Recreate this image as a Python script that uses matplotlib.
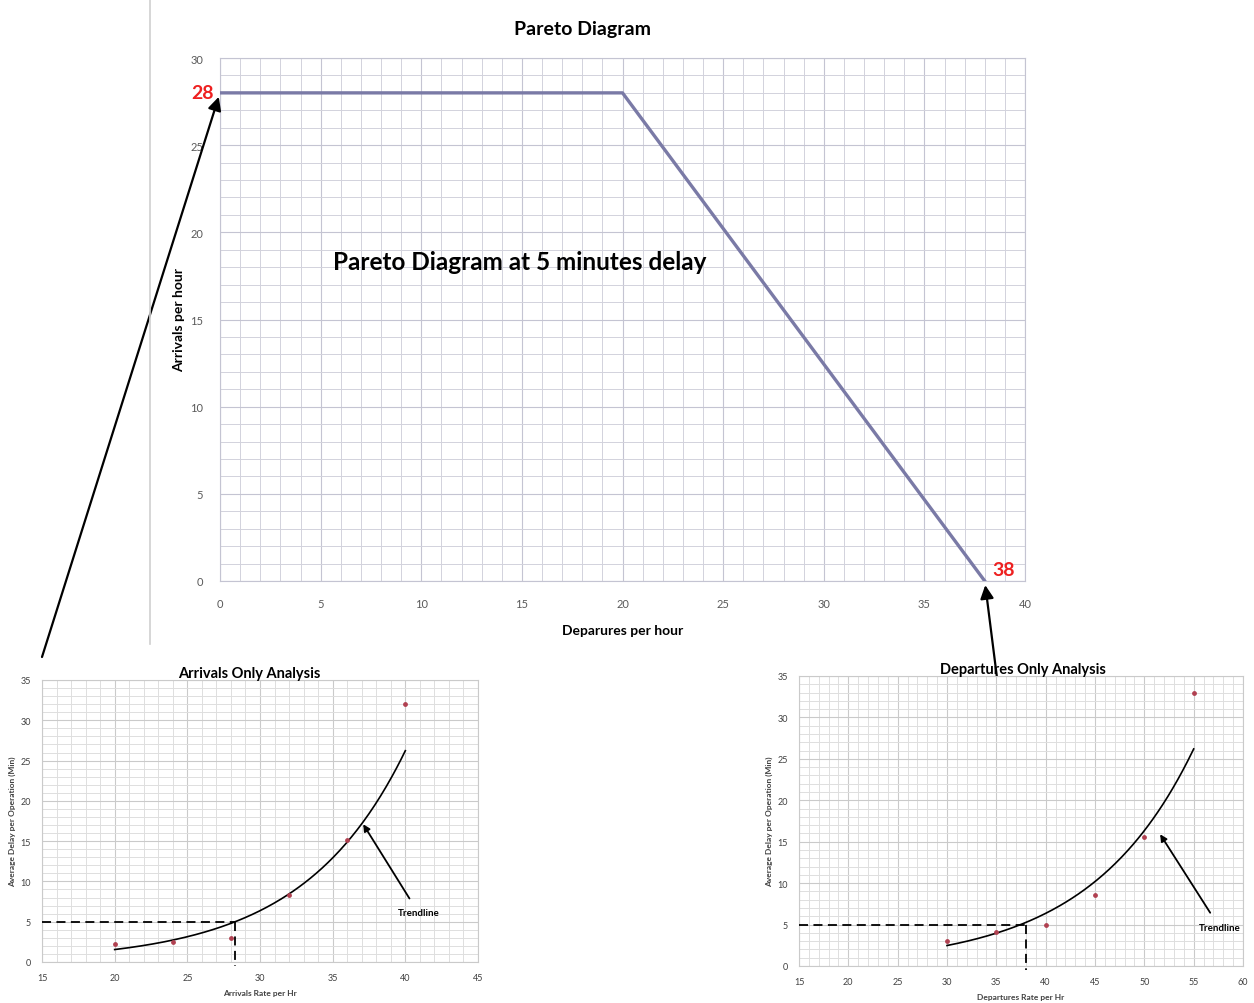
import numpy as np
import matplotlib
matplotlib.use("Agg")
import matplotlib.pyplot as plt
from matplotlib.ticker import MultipleLocator
from matplotlib.lines import Line2D

plt.rcParams['font.family'] = ['Lato', 'DejaVu Sans']

# pareto diagram (departures, arrivals per hour)
pareto_dep = [0, 20, 38]
pareto_arr = [28, 28, 0]

# arrivals only analysis
arr_rate = [20, 24, 28, 32, 36, 40]
arr_delay = [2.2, 2.5, 3.0, 8.3, 15.2, 32.0]
arr_cap = 28.3  # arrivals at 5 min delay

# departures only analysis
dep_rate = [30, 35, 40, 45, 50, 55]
dep_delay = [3.0, 4.1, 5.0, 8.6, 15.6, 32.9]
dep_cap = 38.0

delay_target = 5

W, H = 1254, 1004
fig = plt.figure(figsize=(W / 100, H / 100), dpi=100)


def px_axes(l, b, r, t):
    return fig.add_axes([l / W, 1 - b / H, (r - l) / W, (b - t) / H])


def grid_style(ax, grid_col, minor_col):
    ax.xaxis.set_minor_locator(MultipleLocator(1))
    ax.yaxis.set_minor_locator(MultipleLocator(1))
    ax.grid(True, which='major', color=grid_col, lw=0.8)
    ax.grid(True, which='minor', color=minor_col, lw=0.7)
    ax.set_axisbelow(True)
    ax.tick_params(which='both', length=0)
    for s in ax.spines.values():
        s.set_color(grid_col)
        s.set_linewidth(0.8)


# ---- main pareto chart ----
ax = px_axes(220, 582, 1025, 59)
grid_style(ax, '#c4c4d2', '#d2d2dc')
ax.plot(pareto_dep, pareto_arr, color='#7a7aa6', lw=2.4, zorder=3)
ax.set_xlim(0, 40)
ax.set_ylim(0, 30)
ax.xaxis.set_major_locator(MultipleLocator(5))
ax.yaxis.set_major_locator(MultipleLocator(5))
ax.tick_params(labelsize=8, colors='#595959', pad=12)
ax.set_title('Pareto Diagram', fontsize=14, fontweight='bold', pad=17, x=0.45)
ax.set_xlabel('Deparures per hour', fontsize=10, fontweight='bold', labelpad=11)
ax.set_ylabel('Arrivals per hour', fontsize=10, fontweight='bold', labelpad=4)
ax.text(5.6, 18.3, 'Pareto Diagram at 5 minutes delay', fontsize=17.5,
        fontweight='bold', va='center', ha='left')
ax.text(-0.3, pareto_arr[0], str(pareto_arr[0]), color='#ee2020', fontsize=14,
        fontweight='bold', ha='right', va='center')
ax.text(38.4, 0.65, str(pareto_dep[-1]), color='#ee2020', fontsize=14,
        fontweight='bold', ha='left', va='center')


def small_chart(ax, x, y, cap, xlim, title, title_x, xlabel, arrow_xy, text_xy):
    grid_style(ax, '#cacaca', '#dedede')
    # exponential trendline fitted to the points
    b, a = np.polyfit(x, np.log(y), 1)
    xs = np.linspace(min(x), max(x), 200)
    ax.plot(xs, np.exp(a + b * xs), color='black', lw=1.2, zorder=3)
    ax.scatter(x, y, s=6, color='#b04050', zorder=4)
    ax.plot([xlim[0], cap], [delay_target, delay_target], color='black', lw=1.3,
            ls=(0, (5, 3)), zorder=4)
    ax.plot([cap, cap], [delay_target, -0.5], color='black', lw=1.3,
            ls=(0, (5, 3)), zorder=4, clip_on=False)
    ax.set_xlim(*xlim)
    ax.set_ylim(0, 35)
    ax.xaxis.set_major_locator(MultipleLocator(5))
    ax.yaxis.set_major_locator(MultipleLocator(5))
    ax.tick_params(labelsize=6.5, colors='#404040', pad=8)
    ax.set_title(title, fontsize=10.5, fontweight='bold', pad=1, x=title_x)
    ax.set_xlabel(xlabel, fontsize=6, fontweight='bold', color='#404040', labelpad=5)
    ax.set_ylabel('Average Delay per Operation (Min)', fontsize=6,
                  fontweight='bold', color='#404040', labelpad=3)
    ax.annotate('Trendline', xy=arrow_xy, xytext=text_xy, fontsize=7,
                fontweight='bold', ha='center', va='center',
                arrowprops=dict(arrowstyle='-|>', color='black', lw=1.3,
                                shrinkA=6, shrinkB=0, mutation_scale=10))


ax_a = px_axes(42, 963, 478, 681)
small_chart(ax_a, arr_rate, arr_delay, arr_cap, (15, 45),
            'Arrivals Only Analysis', 0.475, 'Arrivals Rate per Hr',
            (37.1, 17.1), (40.9, 6.1))

ax_d = px_axes(799, 967, 1243, 677)
small_chart(ax_d, dep_rate, dep_delay, dep_cap, (15, 60),
            'Departures Only Analysis', 0.505, 'Departures Rate per Hr',
            (51.6, 15.9), (57.6, 4.7))

# separator line
fig.add_artist(Line2D([150 / W, 150 / W], [1 - 645 / H, 1.0],
                      transform=fig.transFigure, color='#cfcfcf', lw=1.2))

# big arrows linking the charts
ax.annotate('', xy=(pareto_dep[0], pareto_arr[0]), xycoords='data',
            xytext=(42 / W, 1 - 658 / H), textcoords='figure fraction',
            arrowprops=dict(arrowstyle='-|>', color='black', lw=1.6,
                            shrinkA=0, shrinkB=3, mutation_scale=20))
ax.annotate('', xy=(pareto_dep[-1], pareto_arr[-1]), xycoords='data',
            xytext=(dep_cap, 7.2), textcoords=ax_d.transData,
            arrowprops=dict(arrowstyle='-|>', color='black', lw=1.6,
                            shrinkA=0, shrinkB=3, mutation_scale=20))

fig.savefig('out.png', dpi=100)
